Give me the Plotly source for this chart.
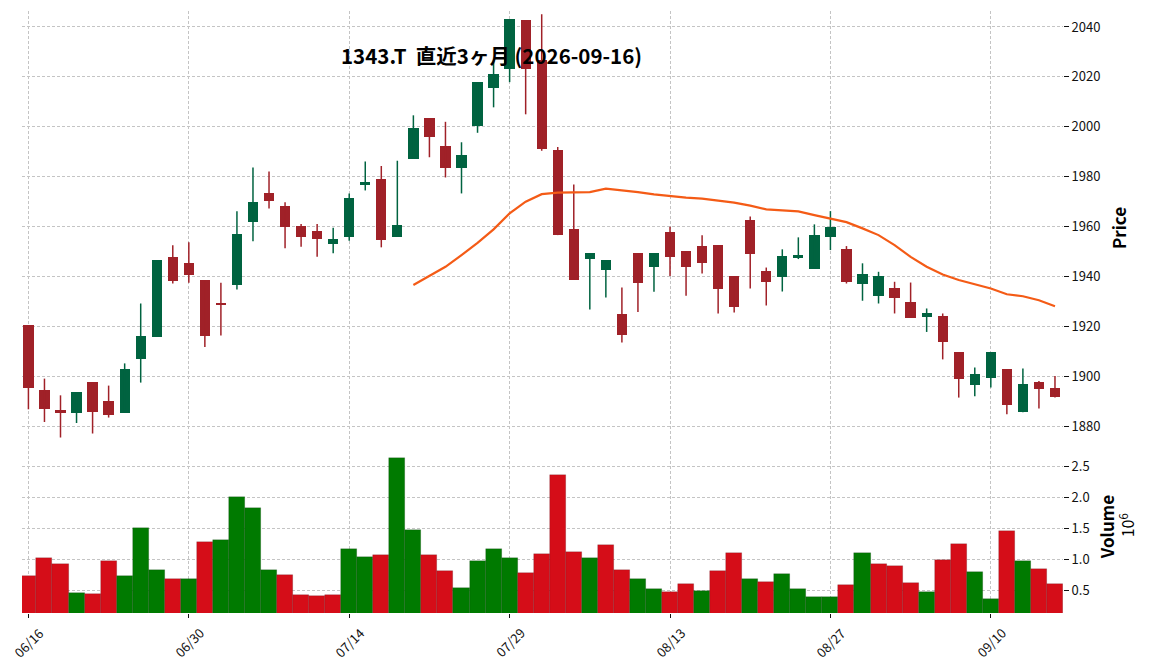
import plotly.graph_objects as go
from plotly.subplots import make_subplots

# daily candles, 1343.T, last 3 months
opens = [1920.5, 1894.5, 1886.4, 1885.4, 1897.7, 1890.0, 1885.4, 1907.0, 1915.8, 1947.8,
         1945.4, 1938.6, 1929.1, 1936.6, 1961.9, 1973.4, 1968.2, 1960.2, 1958.3, 1953.1,
         1955.9, 1976.8, 1979.1, 1955.9, 1987.2, 2003.5, 1992.3, 1983.6, 2000.3, 2015.5,
         2023.3, 2042.8, 2026.8, 1990.7, 1959.0, 1947.1, 1942.6, 1924.9, 1949.3, 1943.9,
         1957.7, 1950.2, 1952.2, 1952.6, 1940.2, 1962.6, 1942.2, 1939.9, 1947.5, 1943.1,
         1955.9, 1951.0, 1937.1, 1932.3, 1935.3, 1929.7, 1923.8, 1924.1, 1909.7, 1896.7,
         1899.4, 1902.9, 1885.6, 1897.7, 1895.3]
highs = [1920.5, 1899.1, 1892.4, 1893.7, 1897.7, 1896.3, 1905.2, 1929.2, 1946.6, 1952.5,
         1953.7, 1938.6, 1937.5, 1966.2, 1983.7, 1982.1, 1969.8, 1961.1, 1961.1, 1959.5,
         1973.3, 1986.1, 1984.3, 1986.4, 2004.6, 2003.5, 2002.0, 1993.8, 2017.9, 2026.8,
         2043.2, 2042.8, 2045.1, 1991.9, 1976.9, 1949.3, 1946.6, 1935.6, 1949.3, 1949.3,
         1959.9, 1950.2, 1956.5, 1952.6, 1940.2, 1964.1, 1943.6, 1950.9, 1955.7, 1960.9,
         1966.2, 1952.2, 1945.3, 1941.9, 1937.9, 1937.6, 1927.2, 1925.2, 1909.7, 1903.6,
         1909.7, 1902.9, 1903.2, 1898.1, 1900.1]
lows = [1886.8, 1881.7, 1875.5, 1881.3, 1877.1, 1883.5, 1885.4, 1897.5, 1915.8, 1937.2,
        1937.5, 1911.8, 1916.4, 1934.8, 1954.1, 1967.3, 1951.3, 1951.9, 1947.9, 1949.3,
        1954.3, 1974.5, 1951.7, 1955.9, 1987.2, 1987.8, 1979.7, 1973.3, 1997.6, 2007.8,
        2017.9, 2005.0, 1990.4, 1956.6, 1938.6, 1926.8, 1931.6, 1913.6, 1925.8, 1933.9,
        1940.2, 1932.3, 1941.2, 1925.2, 1925.6, 1935.2, 1928.4, 1934.0, 1947.0, 1943.1,
        1950.6, 1937.2, 1930.3, 1929.2, 1925.2, 1923.4, 1917.8, 1906.8, 1891.5, 1892.0,
        1895.5, 1884.8, 1885.6, 1887.1, 1891.5]
closes = [1895.4, 1887.0, 1885.4, 1893.7, 1885.6, 1884.4, 1902.9, 1916.1, 1946.6, 1938.3,
          1940.6, 1916.2, 1928.6, 1957.0, 1969.8, 1970.4, 1959.9, 1955.9, 1955.0, 1954.9,
          1971.4, 1977.9, 1954.7, 1960.6, 1999.5, 1996.0, 1983.6, 1988.7, 2017.9, 2021.2,
          2043.2, 2023.3, 1991.2, 1956.6, 1938.6, 1949.3, 1946.6, 1916.5, 1937.5, 1949.3,
          1947.9, 1943.9, 1945.5, 1935.1, 1927.9, 1949.0, 1937.8, 1948.2, 1948.6, 1956.6,
          1959.9, 1937.9, 1941.2, 1940.2, 1931.5, 1923.4, 1925.2, 1913.8, 1899.0, 1901.1,
          1909.7, 1888.6, 1896.9, 1895.1, 1891.8]
# volume in millions of shares
volume_m = [0.726, 1.016, 0.919, 0.452, 0.435, 0.968, 0.726, 1.500, 0.823, 0.677,
            0.677, 1.274, 1.306, 2.000, 1.823, 0.823, 0.742, 0.419, 0.403, 0.419,
            1.161, 1.032, 1.065, 2.629, 1.468, 1.065, 0.806, 0.532, 0.968, 1.161,
            1.016, 0.774, 1.081, 2.355, 1.113, 1.016, 1.226, 0.823, 0.677, 0.516,
            0.468, 0.597, 0.484, 0.806, 1.097, 0.677, 0.629, 0.758, 0.516, 0.387,
            0.387, 0.581, 1.097, 0.919, 0.887, 0.613, 0.468, 0.984, 1.242, 0.790,
            0.355, 1.452, 0.968, 0.839, 0.597]
# 25-day moving average, starts at the 25th session
ma25 = [1936.6, 1940.2, 1943.9, 1948.6, 1953.5, 1958.9, 1965.3, 1970.0, 1973.0, 1973.6,
        1973.6, 1973.8, 1975.2, 1974.6, 1973.8, 1972.9, 1972.2, 1971.6, 1971.2, 1970.4,
        1969.6, 1968.4, 1966.9, 1966.5, 1966.1, 1964.6, 1963.3, 1961.8, 1959.3, 1956.6,
        1952.6, 1947.9, 1943.9, 1940.8, 1938.6, 1937.0, 1935.2, 1932.9, 1932.1, 1930.5,
        1928.1]
tick_labels = ["06/16", "06/30", "07/14", "07/29", "08/13", "08/27", "09/10"]
tick_idx = [0, 10, 20, 30, 40, 50, 60]

UP, DOWN = "#006340", "#a02128"
VUP, VDOWN = "#007a00", "#d50d18"
FONT = "Noto Sans CJK JP"

n = len(closes)
idx = list(range(n))
ma_idx = idx[n - len(ma25):]

fig = make_subplots(rows=2, cols=1, shared_xaxes=True, vertical_spacing=0,
                    row_heights=[5 / 7, 2 / 7])

# wicks
for col, up in ((UP, True), (DOWN, False)):
    wx, wy = [], []
    for i in idx:
        if (closes[i] >= opens[i]) == up:
            wx += [i, i, None]
            wy += [lows[i], highs[i], None]
    fig.add_trace(go.Scatter(x=wx, y=wy, mode="lines", line=dict(color=col, width=1.5),
                             hoverinfo="skip", showlegend=False), row=1, col=1)

# bodies
body_col = [UP if c >= o else DOWN for o, c in zip(opens, closes)]
fig.add_trace(go.Bar(x=idx, y=[abs(c - o) for o, c in zip(opens, closes)],
                     base=[min(o, c) for o, c in zip(opens, closes)],
                     width=0.64, marker=dict(color=body_col, line=dict(width=0)),
                     showlegend=False), row=1, col=1)

fig.add_trace(go.Scatter(x=ma_idx, y=ma25, mode="lines",
                         line=dict(color="#f45b16", width=2.2), showlegend=False),
              row=1, col=1)

# volume coloured against previous close
vol_col = [VDOWN] + [VUP if closes[i] > closes[i - 1] else VDOWN for i in idx[1:]]
fig.add_trace(go.Bar(x=idx, y=volume_m, width=1.0,
                     marker=dict(color=vol_col, line=dict(color="rgba(0,0,0,0.25)", width=0.6)),
                     showlegend=False), row=2, col=1)

grid = dict(showgrid=True, gridcolor="#c4c4c4", gridwidth=0.8, griddash="3px,2px",
            zeroline=False, showline=False, automargin=False)
tickfont = dict(family=FONT, size=13, color="#111")

fig.update_xaxes(range=[-0.4, 64.5], tickvals=tick_idx, showticklabels=False, **grid)
fig.update_xaxes(ticks="", row=1, col=1)
fig.update_xaxes(ticks="outside", ticklen=4, tickcolor="#111", row=2, col=1)
fig.update_yaxes(side="right", ticks="outside", ticklen=5, tickcolor="#111",
                 tickfont=tickfont, **grid)
fig.update_yaxes(range=[1874.1, 2046.4], tickvals=list(range(1880, 2041, 20)), row=1, col=1)
fig.update_yaxes(range=[0.134, 2.906], tickvals=[0.5, 1.0, 1.5, 2.0, 2.5],
                 ticktext=["0.5", "1.0", "1.5", "2.0", "2.5"], row=2, col=1)

# plot-area edges as seen in the screenshot; page body adds 8px
OFF = 8
L, R, T, B = 22 - OFF, 1063 - OFF, 11 - OFF, 612.7 - OFF


def px(x, y):
    return (x - OFF - L) / (R - L), (B - (y - OFF)) / (B - T)


# date labels centred under their ticks, rotated 45 degrees
for ti, lab in zip(tick_idx, tick_labels):
    fig.add_annotation(text=lab, x=ti, xref="x2", y=px(0, 641.7)[1], yref="paper",
                       showarrow=False, textangle=-45, xanchor="center", yanchor="middle",
                       font=tickfont)

annos = [
    ("1343.T  直近3ヶ月 (2026-09-16)", 491, 55, 0, 20.5, True),
    ("Price", 1118, 228, -90, 17, True),
    ("Volume", 1106, 527, -90, 17, True),
    ("10<sup>6</sup>", 1127, 525, -90, 16, False),
]
for text, ax_, ay_, ang, size, bold in annos:
    xx, yy = px(ax_, ay_)
    fig.add_annotation(text=f"<b>{text}</b>" if bold else text, x=xx, y=yy,
                       xref="paper", yref="paper", showarrow=False, textangle=ang,
                       xanchor="center", yanchor="middle",
                       font=dict(family=FONT, size=size, color="#000"))

fig.update_layout(width=1149, height=670, plot_bgcolor="white", paper_bgcolor="white",
                  bargap=0, barmode="overlay",
                  margin=dict(l=L, r=1149 - R, t=T, b=670 - B, autoexpand=False))

fig.write_html("out.html")
